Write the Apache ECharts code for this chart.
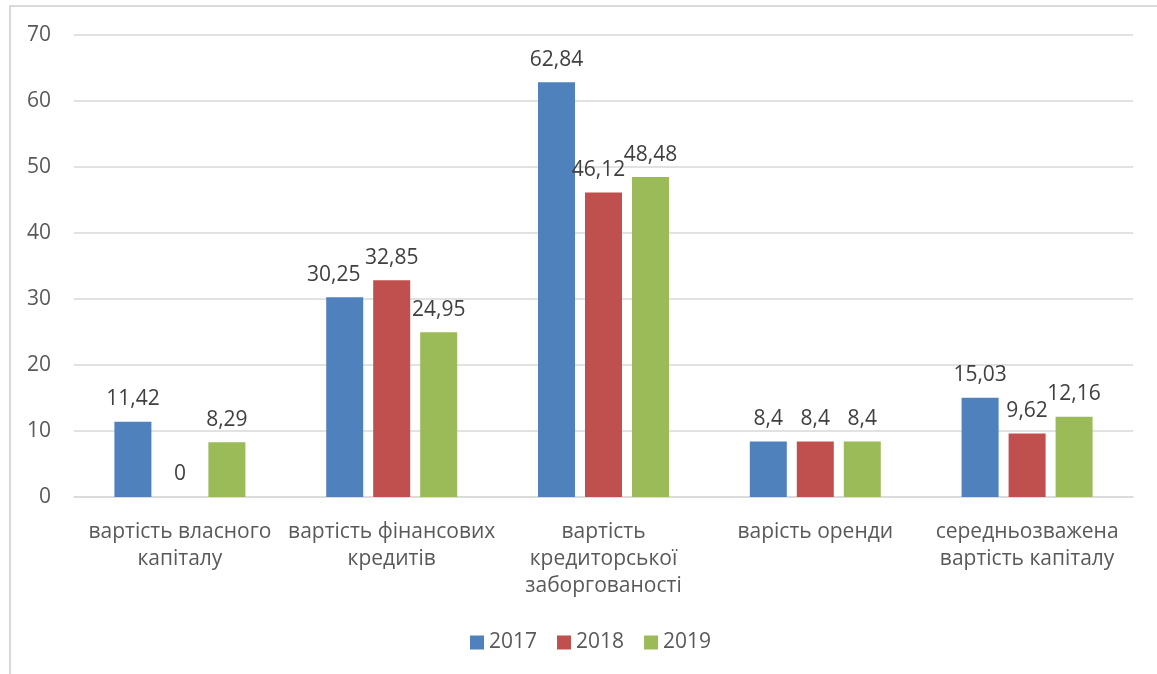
<!DOCTYPE html>
<html>
<head>
<meta charset="utf-8">
<style>
  html, body { margin: 0; padding: 0; background: #ffffff; }
  #chart { width: 1157px; height: 674px; }
</style>
<script src="https://cdn.jsdelivr.net/npm/echarts@6/dist/echarts.min.js"></script>
</head>
<body>
<div id="chart"></div>
<script>
// Cost of capital components, %, by year
const categories = [
  'вартість власного\nкапіталу',
  'вартість фінансових\nкредитів',
  'вартість\nкредиторської\nзаборгованості',
  'варість оренди',
  'середньозважена\nвартість капіталу'
];
const years = ['2017', '2018', '2019'];
const values2017 = [11.42, 30.25, 62.84, 8.4, 15.03];
const values2018 = [0, 32.85, 46.12, 8.4, 9.62];
const values2019 = [8.29, 24.95, 48.48, 8.4, 12.16];
const yTicks = [0, 10, 20, 30, 40, 50, 60, 70];

const colors = ['#4F81BD', '#C0504D', '#9BBB59'];
const seriesValues = [values2017, values2018, values2019];

// small horizontal nudges so crowded labels don't collide
const labelNudge = { '0-1': -11, '1-2': -5 };

const fontFamily = '"Open Sans", "Noto Sans", sans-serif';
const fontSize = 21;

const chart = echarts.init(document.getElementById('chart'), null, { renderer: 'canvas' });

const series = years.map((name, si) => ({
  name: name,
  type: 'bar',
  barWidth: 37,
  barGap: '27%',
  itemStyle: { color: colors[si] },
  label: {
    show: true,
    position: 'top',
    distance: 12,
    color: '#404040',
    fontSize: fontSize,
    fontFamily: fontFamily,
    formatter: p => String(p.value).replace('.', ',')
  },
  data: seriesValues[si].map((v, ci) => {
    const key = si + '-' + ci;
    if (labelNudge[key] !== undefined) {
      return { value: v, label: { offset: [labelNudge[key], 0] } };
    }
    return v;
  })
}));

chart.setOption({
  animation: false,
  backgroundColor: '#ffffff',
  textStyle: { fontFamily: fontFamily },
  graphic: [{
    type: 'rect',
    shape: { x: 10, y: 6, width: 1300, height: 800 },
    style: { fill: 'none', stroke: '#d9d9d9', lineWidth: 2 },
    silent: true,
    z: -10
  }],
  grid: { left: 74, right: 24, top: 35, bottom: 177 },
  legend: {
    data: years,
    bottom: 16,
    left: 465,
    itemWidth: 14,
    itemHeight: 14,
    itemGap: 20,
    icon: 'rect',
    textStyle: { color: '#595959', fontSize: fontSize, fontFamily: fontFamily }
  },
  xAxis: {
    type: 'category',
    data: categories,
    axisLine: { lineStyle: { color: '#d9d9d9', width: 1.5 } },
    axisTick: { show: false },
    axisLabel: {
      color: '#595959',
      fontSize: fontSize,
      lineHeight: 27,
      margin: 22,
      interval: 0,
      fontFamily: fontFamily
    }
  },
  yAxis: {
    type: 'value',
    min: yTicks[0],
    max: yTicks[yTicks.length - 1],
    interval: 10,
    axisLine: { show: false },
    axisTick: { show: false },
    splitLine: { lineStyle: { color: '#d9d9d9', width: 1.5 } },
    axisLabel: {
      color: '#595959',
      fontSize: fontSize,
      margin: 23,
      fontFamily: fontFamily
    }
  },
  series: series
});
</script>
</body>
</html>
